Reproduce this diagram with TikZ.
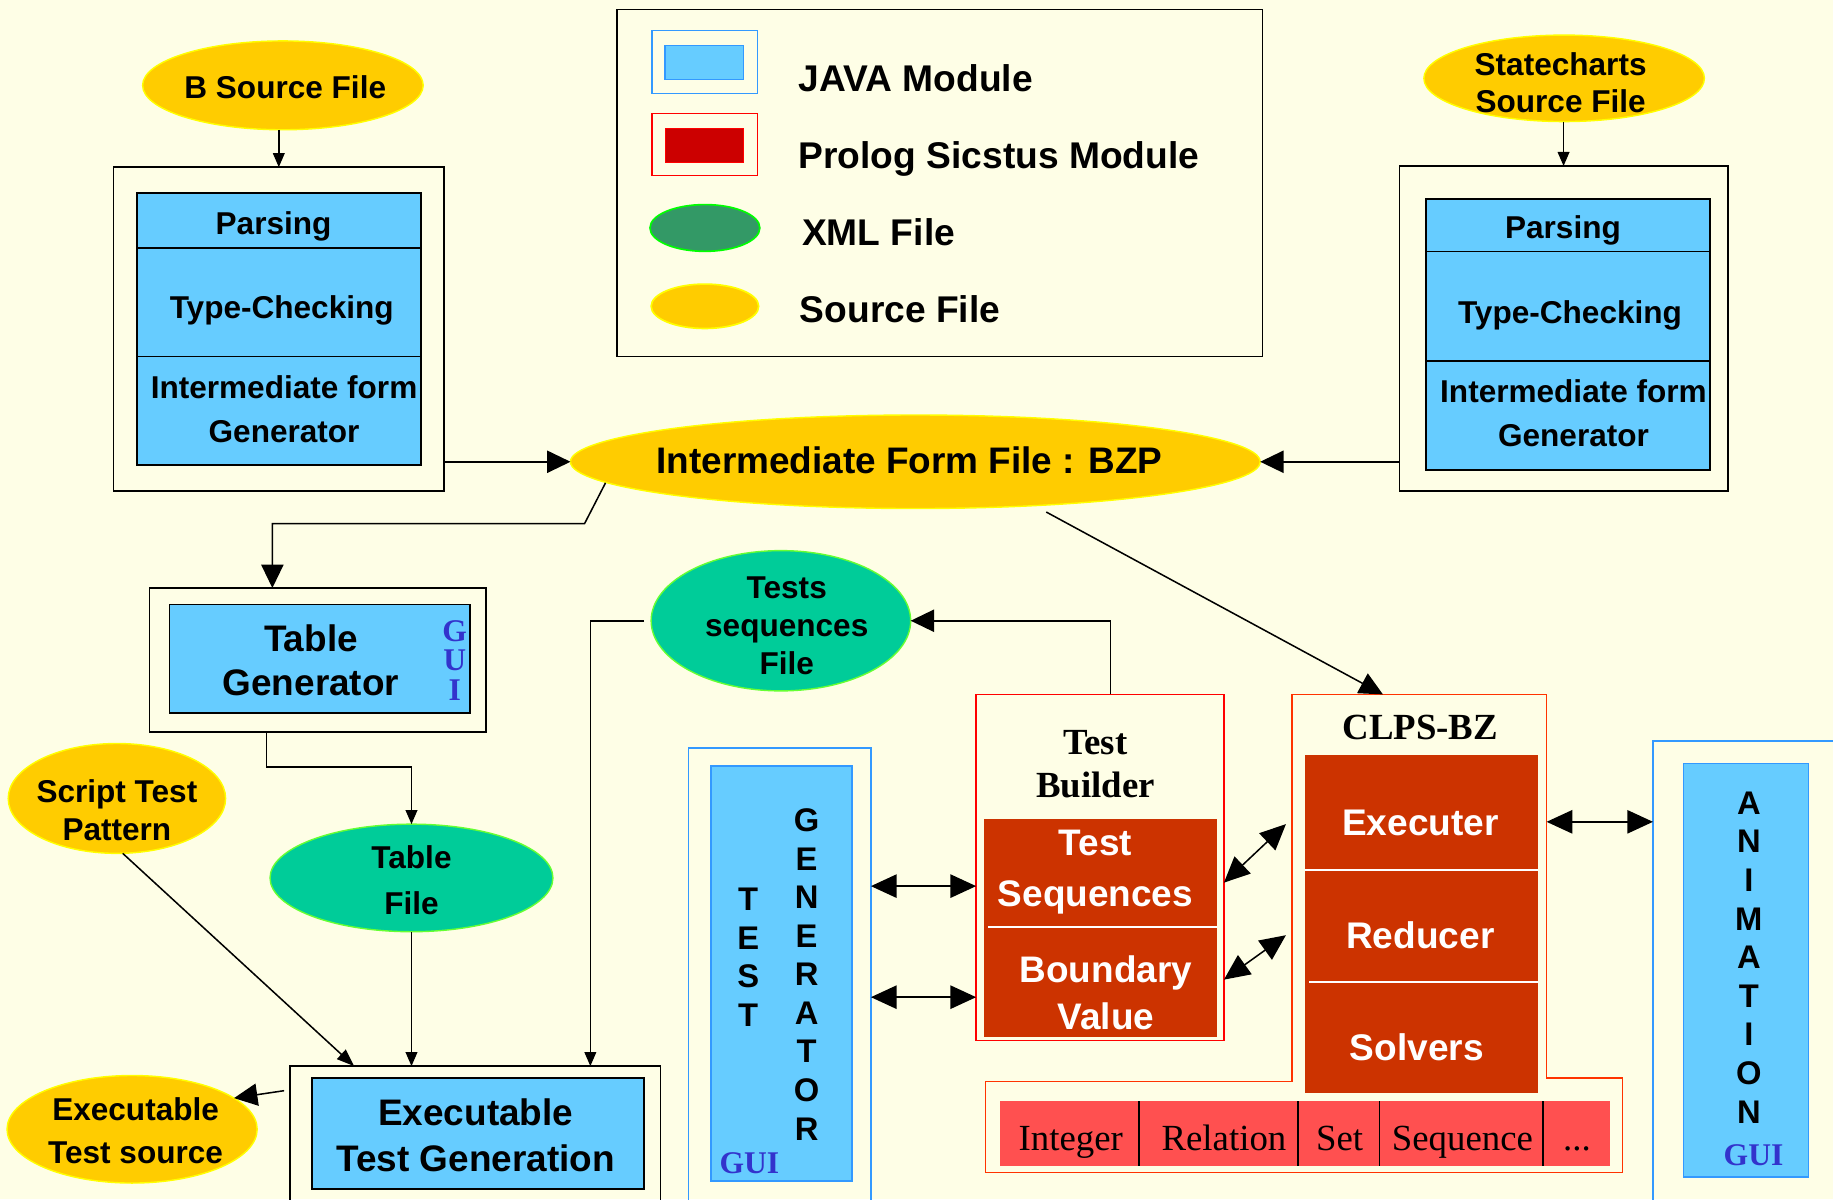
\documentclass[tikz,border=0pt]{standalone}
\usepackage{fontspec}
\setmainfont{Liberation Sans}
\newfontfamily\tnr{Liberation Serif}
\usetikzlibrary{arrows.meta,shapes.geometric,calc}

\definecolor{bg}{RGB}{254,254,230}
\definecolor{javafill}{RGB}{102,204,255}
\definecolor{javaedge}{RGB}{51,153,255}
\definecolor{prolog}{RGB}{204,51,0}
\definecolor{prologlegend}{RGB}{204,0,0}
\definecolor{redline}{RGB}{255,0,0}
\definecolor{clpsline}{RGB}{255,51,0}
\definecolor{barfill}{RGB}{255,80,80}
\definecolor{xmlfill}{RGB}{0,204,153}
\definecolor{xmledge}{RGB}{102,255,51}
\definecolor{xmllegend}{RGB}{51,153,102}
\definecolor{legendedge}{RGB}{0,255,0}
\definecolor{srcfill}{RGB}{255,204,0}
\definecolor{srcedge}{RGB}{255,255,0}
\definecolor{guiblue}{RGB}{51,51,204}

\newcommand\fs[2]{\fontsize{#1}{#2}\selectfont}

\begin{document}
\begin{tikzpicture}[x=1pt,y=-1pt,
  box/.style={rectangle, inner sep=0pt, outer sep=0pt},
  frame/.style={box, draw=black, line width=1.4pt},
  javamod/.style={box, draw=black, line width=1.4pt, fill=javafill},
  javaframe/.style={box, draw=javaedge, line width=1.4pt},
  javacore/.style={box, draw=javaedge, line width=1.4pt, fill=javafill},
  prologcore/.style={box, fill=prolog},
  srcfile/.style={ellipse, inner sep=0pt, outer sep=0pt, fill=srcfill, draw=srcedge, line width=1.2pt},
  xmlfile/.style={ellipse, inner sep=0pt, outer sep=0pt, fill=xmlfill, draw=xmledge, line width=1.2pt},
  lbl/.style={inner sep=0pt, align=center, font=\bfseries\fs{27}{#1}},
  lbl/.default=32,
  biglbl/.style={inner sep=0pt, align=center, font=\bfseries\fs{31.6}{#1}},
  biglbl/.default=38,
  conn/.style={draw=black, line width=1.3pt},
  tipL/.style={-{Triangle[length=20pt,width=19pt]}},
  tipM/.style={-{Triangle[length=15pt,width=11pt]}},
  tipS/.style={-{Triangle[length=12pt,width=10pt]}},
  tipD/.style={{Triangle[length=22pt,width=20pt]}-{Triangle[length=22pt,width=20pt]}},
  vletters/.style={align=center, font=\bfseries\fs{28}{33}},
  gui/.style={text=guiblue, font=\tnr\bfseries\fs{27}{25.5}, align=center},
  whitetxt/.style={text=white, align=center, inner sep=0pt},
]
\useasboundingbox (0,0) rectangle (1568,1026);
\fill[bg] (0,0) rectangle (1568,1026);

% ---------- legend ----------
\node[frame, minimum width=552pt, minimum height=297pt] (legend) at (804,156.5) {};
\node[javaframe, minimum width=90pt, minimum height=54pt] (lgjavaout) at (603,53) {};
\node[javacore, minimum width=67pt, minimum height=29pt] (lgjavain) at (602.5,53.5) {};
\node[box, draw=redline, line width=1.4pt, minimum width=90pt, minimum height=53pt] (lgprout) at (603,123.5) {};
\node[box, draw=redline, fill=prologlegend, line width=1pt, minimum width=67pt, minimum height=29pt] (lgprin) at (602.5,124.5) {};
\node[ellipse, inner sep=0pt, fill=xmllegend, draw=legendedge, line width=1.4pt, minimum width=94pt, minimum height=40pt] (lgxml) at (603,195) {};
\node[ellipse, inner sep=0pt, fill=srcfill, draw=srcedge, line width=1.4pt, minimum width=92pt, minimum height=38pt] (lgsrc) at (603,262) {};
\node[anchor=base west, inner sep=0pt, font=\bfseries\fs{31.8}{38}] (lgjavatxt) at (683,78) {JAVA Module};
\node[anchor=base west, inner sep=0pt, font=\bfseries\fs{31.8}{38}] (lgprtxt) at (683,144) {Prolog Sicstus Module};
\node[anchor=base west, inner sep=0pt, font=\bfseries\fs{31.8}{38}] (lgxmltxt) at (686,210) {XML File};
\node[anchor=base west, inner sep=0pt, font=\bfseries\fs{31.8}{38}] (lgsrctxt) at (684,276) {Source File};

% ---------- B front end ----------
\node[srcfile, minimum width=240pt, minimum height=76pt] (bsrc) at (242,73) {};
\node[lbl] (bsrctxt) at (244,75) {B Source File};
\node[frame, minimum width=283pt, minimum height=277pt] (lout) at (238.5,281.5) {};
\node[javamod, minimum width=243pt, minimum height=47pt] (lparse) at (238.5,188.5) {};
\node[javamod, minimum width=243pt, minimum height=93pt] (ltype) at (238.5,258.5) {};
\node[javamod, minimum width=243pt, minimum height=93pt] (linter) at (238.5,351.5) {};
\node[lbl] (lparsetxt) at (234,193.5) {Parsing};
\node[lbl] (ltypetxt) at (241,265.5) {Type-Checking};
\node[lbl=37] (lintertxt) at (243,350) {Intermediate form\\Generator};

% ---------- Statecharts front end ----------
\node[srcfile, minimum width=240pt, minimum height=74pt] (scsrc) at (1338,67) {};
\node[lbl] (scsrctxt) at (1335,71) {Statecharts\\Source File};
\node[frame, minimum width=281pt, minimum height=278pt] (rout) at (1337.5,281) {};
\node[javamod, minimum width=243pt, minimum height=45pt] (rparse) at (1341.5,192.5) {};
\node[javamod, minimum width=243pt, minimum height=94pt] (rtype) at (1341.5,262) {};
\node[javamod, minimum width=243pt, minimum height=93pt] (rinter) at (1341.5,355.5) {};
\node[lbl] (rparsetxt) at (1337,197.5) {Parsing};
\node[lbl] (rtypetxt) at (1343,270) {Type-Checking};
\node[lbl=37] (rintertxt) at (1346,353.5) {Intermediate form\\Generator};

% ---------- intermediate form ----------
\node[srcfile, minimum width=590pt, minimum height=80pt] (bzp) at (783,395) {};
\node[biglbl] (bzptxt) at (778,394) {Intermediate Form File : BZP};

% ---------- table generation ----------
\node[frame, minimum width=288pt, minimum height=123pt] (tgout) at (272,564.5) {};
\node[javamod, minimum width=257pt, minimum height=93pt] (tgin) at (273.5,563.5) {};
\node[biglbl] (tgtxt) at (266,565) {Table\\Generator};
\node[gui] (tggui) at (389,565) {G\\U\\I};
\node[xmlfile, minimum width=242pt, minimum height=92pt] (tfile) at (352,751) {};
\node[lbl=39] (tfiletxt) at (352,753) {Table\\File};
\node[srcfile, minimum width=186pt, minimum height=94pt] (script) at (100,683) {};
\node[lbl=33] (scripttxt) at (100,693) {Script Test\\Pattern};
\node[xmlfile, minimum width=222pt, minimum height=120pt] (tseq) at (668,531) {};
\node[lbl=32.5] (tseqtxt) at (673,535) {Tests\\sequences\\File};

% ---------- executable test generation ----------
\node[frame, minimum width=317pt, minimum height=133pt] (etgout) at (406.5,978.5) {};
\node[javamod, minimum width=284pt, minimum height=95pt] (etgin) at (409,969.5) {};
\node[biglbl=39] (etgtxt) at (407,971) {Executable\\Test Generation};
\node[srcfile, minimum width=214pt, minimum height=92pt] (exsrc) at (113,966) {};
\node[lbl=37] (exsrctxt) at (116,967) {Executable\\Test source};

% ---------- test generator GUI ----------
\node[javaframe, minimum width=156pt, minimum height=405pt] (tgenout) at (667,842.5) {};
\node[javacore, minimum width=121pt, minimum height=355pt] (tgenin) at (668.5,832.5) {};
\node[vletters] (tgentest) at (640,819) {T\\E\\S\\T};
\node[vletters] (tgengen) at (690,833.5) {G\\E\\N\\E\\R\\A\\T\\O\\R};
\node[gui] (tgengui) at (641,995) {GUI};

% ---------- test builder ----------
\node[box, draw=redline, line width=1.4pt, minimum width=212pt, minimum height=296pt] (tbuild) at (941,742) {};
\node[font=\tnr\bfseries\fs{31.5}{37}, align=center] (tbtitle) at (937,653.5) {Test\\Builder};
\node[prologcore, minimum width=199pt, minimum height=92pt] (tbseq) at (941.5,747) {};
\node[prologcore, minimum width=199pt, minimum height=94pt] (tbbv) at (941.5,840) {};
\draw[white, line width=1.5pt] ([xshift=3pt]tbseq.south west) -- (tbseq.south east);
\node[whitetxt, font=\bfseries\fs{31.6}{44}] (tbseqtxt) at (937,746) {Test\\Sequences};
\node[whitetxt, font=\bfseries\fs{31.6}{40}] (tbbvtxt) at (946,849) {Boundary\\Value};

% ---------- CLPS-BZ ----------
\node[box, minimum width=218pt, minimum height=331pt] (clps) at (1214,759.5) {};
\node[box, minimum width=545pt, minimum height=78pt] (clpsbase) at (1115.5,964) {};
\draw[clpsline, line width=1.4pt] (clps.north west) -- (clps.north east) -- (clps.east |- 0,922)
  -- (clpsbase.east |- 0,922) -- (clpsbase.south east) -- (clpsbase.south west)
  -- (clpsbase.north west) -- (clps.south west) -- cycle;
\node[font=\tnr\bfseries\fs{31.5}{37}] (clpstitle) at (1215,622) {CLPS-BZ};
\node[prologcore, minimum width=200pt, minimum height=98pt] (cexec) at (1216,695) {};
\node[prologcore, minimum width=200pt, minimum height=96pt] (cred) at (1216,792) {};
\node[prologcore, minimum width=200pt, minimum height=95pt] (csolv) at (1216,887.5) {};
\draw[white, line width=1.5pt] (cexec.south west) -- (cexec.south east);
\draw[white, line width=1.5pt] ([xshift=4pt]cred.south west) -- (cred.south east);
\node[whitetxt, font=\bfseries\fs{31.7}{38}] (cexectxt) at (1215,704) {Executer};
\node[whitetxt, font=\bfseries\fs{31.7}{38}] (credtxt) at (1215,800) {Reducer};
\node[whitetxt, font=\bfseries\fs{31.7}{38}] (csolvtxt) at (1212,896) {Solvers};

% library bar
\node[box, fill=barfill, minimum width=119pt, minimum height=55pt] (bint) at (914.5,969.5) {};
\node[box, fill=barfill, minimum width=136pt, minimum height=55pt] (brel) at (1042,969.5) {};
\node[box, fill=barfill, minimum width=70pt, minimum height=55pt] (bset) at (1145,969.5) {};
\node[box, fill=barfill, minimum width=140pt, minimum height=55pt] (bseq) at (1250,969.5) {};
\node[box, fill=barfill, minimum width=57pt, minimum height=55pt] (bdots) at (1348.5,969.5) {};
\foreach \c in {bint,brel,bset,bseq}
  \draw[black, line width=1.6pt] (\c.north east) -- (\c.south east);
\node[anchor=base, inner sep=0pt, font=\tnr\fs{31.5}{38}] (binttxt) at (916,984) {Integer};
\node[anchor=base, inner sep=0pt, font=\tnr\fs{31.5}{38}] (breltxt) at (1047,984) {Relation};
\node[anchor=base, inner sep=0pt, font=\tnr\fs{31.5}{38}] (bsettxt) at (1146,984) {Set};
\node[anchor=base, inner sep=0pt, font=\tnr\fs{31.5}{38}] (bseqtxt) at (1251,984) {Sequence};
\node[anchor=base, inner sep=0pt, font=\tnr\fs{31.5}{38}] (bdotstxt) at (1349,984) {...};

% ---------- animation GUI ----------
\node[javaframe, minimum width=166pt, minimum height=411pt] (anout) at (1497,839.5) {};
\node[javacore, minimum width=107pt, minimum height=354pt] (anin) at (1493.5,830) {};
\node[vletters] (antxt) at (1496,819) {A\\N\\I\\M\\A\\T\\I\\O\\N};
\node[gui] (angui) at (1500,988) {GUI};

% ---------- connectors ----------
\draw[conn, tipS] (bsrc.south -| lout.north) -- (lout.north);
\draw[conn, tipL] (lout.east |- bzp.west) -- (bzp.west);
\draw[conn, tipS] (scsrc.south -| rout.north) -- (rout.north);
\draw[conn, tipL] (rout.west |- bzp.east) -- (bzp.east);
\draw[conn, tipL] ([shift={(-265,18)}]bzp.center) -- ++(-18,35) -| ([xshift=-39pt]tgout.north);
\draw[conn, tipS] ([xshift=-44pt]tgout.south) -- ++(0,30) -| (tfile.north);
\draw[conn, tipS] (tfile.south) -- (tfile.south |- etgout.north);
\draw[conn, tipM] ([xshift=5pt]script.south) -- ([xshift=55pt]etgout.north west);
\draw[conn, tipS] ([xshift=-6pt]tseq.west) -| ([xshift=257pt]etgout.north west);
\draw[conn, tipL] ([xshift=9pt]tbuild.north) |- (tseq.east);
\draw[conn, tipL] ([shift={(-5,21)}]etgout.north west) -- (exsrc.17);
\draw[conn, tipL] ([shift={(112,43)}]bzp.center) -- ([xshift=-31pt]clps.north);

\coordinate (ga) at ([yshift=-118pt]tgenout.north east);
\coordinate (gb) at ([yshift=-213pt]tgenout.north east);
\draw[conn, tipD] (ga) -- (ga -| tbuild.west);
\draw[conn, tipD] (gb) -- (gb -| tbuild.west);
\draw[conn, tipD] ([yshift=-161pt]tbuild.north east) -- ([shift={(-5,111)}]clps.north west);
\draw[conn, tipD] ([yshift=-244pt]tbuild.north east) -- ([shift={(-5,206)}]clps.north west);
\coordinate (ea) at ([yshift=-109pt]clps.north east);
\draw[conn, tipD] (ea) -- (ea -| anout.west);
\end{tikzpicture}
\end{document}
